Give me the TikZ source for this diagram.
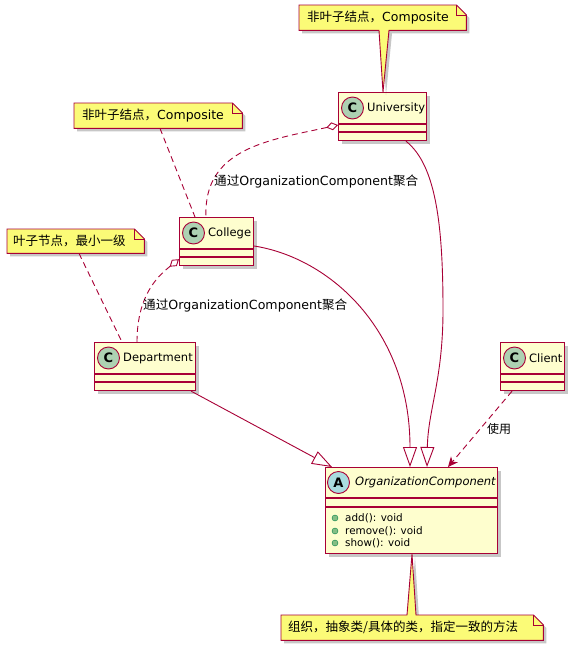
\documentclass[tikz,border=0pt]{standalone}
\usepackage{fontspec}
\setmainfont{DejaVu Sans}
\newfontfamily\cjk{Noto Sans CJK SC}
\usetikzlibrary{calc,arrows.meta,shadows}
\definecolor{bord}{HTML}{A80036}
\definecolor{boxfill}{HTML}{FEFECE}
\definecolor{notefill}{HTML}{FBFB77}
\definecolor{cgreen}{HTML}{ADD1B2}
\definecolor{ablue}{HTML}{A9DCDF}
\definecolor{mgreen}{HTML}{84BE84}
\definecolor{mborder}{HTML}{038048}
\tikzset{
  shad/.style={drop shadow={shadow xshift=3pt,shadow yshift=-3pt,opacity=0.22,fill=black}},
  classbox/.style={draw=bord,fill=boxfill,line width=1.2pt,anchor=north west,inner sep=0pt,shad},
  sepline/.style={draw=bord,line width=1.2pt},
  badge/.style={circle,draw=bord,line width=0.9pt,minimum size=22pt,inner sep=0pt,font=\bfseries\fontsize{13}{13}\selectfont},
  cname/.style={anchor=west,inner sep=0pt,font=\fontsize{11.5}{13}\selectfont},
  mdot/.style={circle,draw=mborder,fill=mgreen,line width=0.4pt,minimum size=6pt,inner sep=0pt},
  mtext/.style={anchor=west,inner sep=0pt,font=\fontsize{10.4}{12}\selectfont},
  noteanchor/.style={draw=none,fill=none,anchor=north west,inner sep=0pt},
  notepath/.style={draw=bord,fill=notefill,line width=0.9pt,line join=miter,shad},
  notetext/.style={anchor=west,inner sep=0pt,font=\fontsize{12.5}{14}\selectfont},
  lbl/.style={anchor=west,inner sep=0pt,font=\fontsize{12.6}{14}\selectfont},
  edge/.style={draw=bord,line width=0.9pt},
  dashedge/.style={edge,dash pattern=on 6pt off 4pt},
  inh/.style={edge,-{Triangle[length=20pt,width=14pt,fill=white]}},
  agg/.style={dashedge,{Diamond[length=12pt,width=8pt,fill=white]}-},
  dep/.style={dashedge,-{Stealth[length=10pt,width=9pt,inset=3pt]}},
}
\begin{document}
\begin{tikzpicture}[x=1pt,y=-1pt]
\useasboundingbox[fill=white] (0,0) rectangle (577,646);

% ---------- classes ----------
\node[classbox,minimum width=88pt,minimum height=48pt] (univ) at (338,92) {};
\draw[sepline] ($(univ.north west)+(0,32)$) -- ($(univ.north east)+(0,32)$);
\draw[sepline] ($(univ.north west)+(0,40)$) -- ($(univ.north east)+(0,40)$);
\node[badge,fill=cgreen] (univC) at ($(univ.north west)+(14.5,16)$) {C};
\node[cname] (univN) at ($(univ.north west)+(29,16)$) {University};

\node[classbox,minimum width=74pt,minimum height=48pt] (coll) at (179,217) {};
\draw[sepline] ($(coll.north west)+(0,32)$) -- ($(coll.north east)+(0,32)$);
\draw[sepline] ($(coll.north west)+(0,40)$) -- ($(coll.north east)+(0,40)$);
\node[badge,fill=cgreen] (collC) at ($(coll.north west)+(14.5,16)$) {C};
\node[cname] (collN) at ($(coll.north west)+(29,16)$) {College};

\node[classbox,minimum width=101pt,minimum height=48pt] (dept) at (94,342) {};
\draw[sepline] ($(dept.north west)+(0,32)$) -- ($(dept.north east)+(0,32)$);
\draw[sepline] ($(dept.north west)+(0,40)$) -- ($(dept.north east)+(0,40)$);
\node[badge,fill=cgreen] (deptC) at ($(dept.north west)+(14.5,16)$) {C};
\node[cname] (deptN) at ($(dept.north west)+(29,16)$) {Department};

\node[classbox,minimum width=64pt,minimum height=48pt] (client) at (500,342) {};
\draw[sepline] ($(client.north west)+(0,32)$) -- ($(client.north east)+(0,32)$);
\draw[sepline] ($(client.north west)+(0,40)$) -- ($(client.north east)+(0,40)$);
\node[badge,fill=cgreen] (clientC) at ($(client.north west)+(14.5,16)$) {C};
\node[cname] (clientN) at ($(client.north west)+(29,16)$) {Client};

\node[classbox,minimum width=172pt,minimum height=86pt] (oc) at (325,467) {};
\draw[sepline] ($(oc.north west)+(0,31)$) -- ($(oc.north east)+(0,31)$);
\draw[sepline] ($(oc.north west)+(0,40)$) -- ($(oc.north east)+(0,40)$);
\node[badge,fill=ablue] (ocA) at ($(oc.north west)+(13.5,15.5)$) {A};
\node[cname,font=\itshape\fontsize{11.5}{13}\selectfont] (ocN) at ($(oc.north west)+(30,15.5)$) {OrganizationComponent};
\node[mdot] (d1) at ($(oc.north west)+(10,51)$) {};
\node[mtext] (m1) at ($(oc.north west)+(20,51)$) {add(): void};
\node[mdot] (d2) at ($(oc.north west)+(10,64)$) {};
\node[mtext] (m2) at ($(oc.north west)+(20,64)$) {remove(): void};
\node[mdot] (d3) at ($(oc.north west)+(10,76)$) {};
\node[mtext] (m3) at ($(oc.north west)+(20,76)$) {show(): void};

% ---------- notes ----------
\node[noteanchor,minimum width=167pt,minimum height=25pt] (n1) at (299,5) {};
\draw[notepath] (n1.north west) -- ($(n1.north east)+(-10,0)$) -- ($(n1.north east)+(0,10)$)
  -- (n1.south east) -- ($(n1.south west)+(90,0)$) -- ($(univ.north west)+(45,0)$)
  -- ($(n1.south west)+(80,0)$) -- (n1.south west) -- cycle;
\draw[draw=bord,line width=0.9pt] ($(n1.north east)+(-10,0)$) -- ($(n1.north east)+(-10,10)$) -- ($(n1.north east)+(0,10)$);
\node[notetext] (n1t) at ($(n1.west)+(8,0)$) {{\cjk 非叶子结点，}Composite};

\node[noteanchor,minimum width=168pt,minimum height=25pt] (n2) at (74,103) {};
\draw[notepath] (n2.north west) -- ($(n2.north east)+(-10,0)$) -- ($(n2.north east)+(0,10)$)
  -- (n2.south east) -- (n2.south west) -- cycle;
\draw[draw=bord,line width=0.9pt] ($(n2.north east)+(-10,0)$) -- ($(n2.north east)+(-10,10)$) -- ($(n2.north east)+(0,10)$);
\node[notetext] (n2t) at ($(n2.west)+(8,0)$) {{\cjk 非叶子结点，}Composite};

\node[noteanchor,minimum width=137pt,minimum height=24pt] (n3) at (7,229) {};
\draw[notepath] (n3.north west) -- ($(n3.north east)+(-10,0)$) -- ($(n3.north east)+(0,10)$)
  -- (n3.south east) -- (n3.south west) -- cycle;
\draw[draw=bord,line width=0.9pt] ($(n3.north east)+(-10,0)$) -- ($(n3.north east)+(-10,10)$) -- ($(n3.north east)+(0,10)$);
\node[notetext] (n3t) at ($(n3.west)+(6,0)$) {\cjk 叶子节点，最小一级};

\node[noteanchor,minimum width=262pt,minimum height=25pt] (n4) at (281,615) {};
\draw[notepath] (n4.north west) -- ($(n4.north west)+(126,0)$) -- ($(oc.south west)+(87,0)$)
  -- ($(n4.north west)+(135,0)$) -- ($(n4.north east)+(-10,0)$) -- ($(n4.north east)+(0,10)$)
  -- (n4.south east) -- (n4.south west) -- cycle;
\draw[draw=bord,line width=0.9pt] ($(n4.north east)+(-10,0)$) -- ($(n4.north east)+(-10,10)$) -- ($(n4.north east)+(0,10)$);
\node[notetext] (n4t) at ($(n4.west)+(7,0)$) {\cjk 组织，抽象类/具体的类，指定一致的方法};

% ---------- note links ----------
\draw[dashedge] ($(n2.south west)+(86,0)$) -- ($(coll.north west)+(16,0)$);
\draw[dashedge] ($(n3.south west)+(72,0)$) -- ($(dept.north west)+(28,0)$);

% ---------- relations ----------
\draw[agg] ($(univ.north west)+(0,33)$) .. controls (270,140) and (203,148) .. ($(coll.north west)+(27,0)$);
\node[lbl] (lab1) at (214,181) {{\cjk 通过}OrganizationComponent{\cjk 聚合}};

\draw[agg] ($(coll.south west)+(0,-7)$) .. controls (158,276) and (137,295) .. ($(dept.north west)+(43,0)$);
\node[lbl] (lab2) at (143,305) {{\cjk 通过}OrganizationComponent{\cjk 聚合}};

\draw[inh] ($(coll.north east)+(0,29)$) .. controls (330,258) and (410,330) .. ($(oc.north west)+(85,0)$);
\draw[inh] ($(univ.south west)+(68,0)$) .. controls (436,165) and (443,225) .. (443,310)
  .. controls (443,380) and (428,410) .. ($(oc.north west)+(102,0)$);
\draw[inh] ($(dept.south east)+(-5,0)$) -- ($(oc.north west)+(7,0)$);

\draw[dep] ($(client.south west)+(12,0)$) -- ($(oc.north west)+(123,0)$);
\node[lbl,anchor=center,font=\cjk\fontsize{12}{14}\selectfont] (lab3) at (499,429) {使用};
\end{tikzpicture}
\end{document}
